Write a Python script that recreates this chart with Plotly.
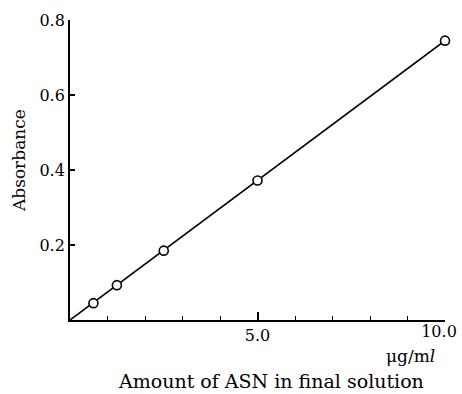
import plotly.graph_objects as go

# Data
conc = [0.625, 1.25, 2.5, 5.0, 10.0]          # µg/ml
absorb = [0.045, 0.093, 0.185, 0.372, 0.745]  # absorbance
fit_x = [0.0, 10.0]
fit_y = [0.0, 0.745]

x_tickvals = [5.0]
x_ticktext = ["5.0"]
x_end_tickvals = [10.0]
x_end_ticktext = ["10.0"]
y_tickvals = [0.2, 0.4, 0.6, 0.8]
y_ticktext = ["0.2", "0.4", "0.6", "0.8"]

FONT = "DejaVu Serif"

fig = go.Figure()
fig.add_trace(go.Scatter(x=fit_x, y=fit_y, mode="lines",
                         line=dict(color="black", width=1.6),
                         hoverinfo="skip", showlegend=False))
# markers drawn on the overlaid x-axis (same range), which carries the "10.0" label
fig.add_trace(go.Scatter(x=conc, y=absorb, mode="markers", xaxis="x2", yaxis="y",
                         marker=dict(size=9, color="white", symbol="circle",
                                     line=dict(color="black", width=1.6)),
                         showlegend=False, cliponaxis=False))

L, R, T, B = 70, 17, 20, 74
W, H = 462, 394
pw, ph = W - L - R, H - T - B

def px(xp):
    return (xp - L) / pw

def py(yp):
    return (H - B - yp) / ph

fig.update_layout(
    width=W, height=H,
    margin=dict(l=L, r=R, t=T, b=B, pad=0, autoexpand=False),
    paper_bgcolor="white", plot_bgcolor="white",
    font=dict(family=FONT, color="black", size=16),
    xaxis=dict(range=[0, 10], showline=True, linecolor="black", linewidth=1.8,
               showgrid=False, zeroline=False, automargin=False,
               tickmode="array", tickvals=x_tickvals, ticktext=x_ticktext,
               ticks="inside", ticklen=8, tickwidth=1.5, tickcolor="black",
               tickfont=dict(family=FONT, size=16),
               minor=dict(tickmode="linear", tick0=0, dtick=1, ticks="inside",
                          ticklen=4, tickwidth=1.3, tickcolor="black")),
    xaxis2=dict(range=[0, 10], overlaying="x", anchor="y", side="bottom",
                showline=False, showgrid=False, zeroline=False, automargin=False,
                tickmode="array", tickvals=x_end_tickvals, ticktext=x_end_ticktext,
                ticks="", ticklabelshift=-6, ticklabeloverflow="allow",
                tickfont=dict(family=FONT, size=16)),
    yaxis=dict(range=[0, 0.8], showline=True, linecolor="black", linewidth=1.8,
               showgrid=False, zeroline=False, automargin=False,
               tickmode="array", tickvals=y_tickvals, ticktext=y_ticktext,
               ticks="inside", ticklen=5, tickwidth=1.5, tickcolor="black",
               ticklabeloverflow="allow",
               tickfont=dict(family=FONT, size=16)),
    annotations=[
        dict(text="Absorbance", textangle=-90, xref="paper", yref="paper",
             x=px(19), y=py(160), xanchor="center", yanchor="middle",
             showarrow=False, font=dict(family=FONT, size=17)),
        dict(text="Amount of ASN in final solution", xref="paper", yref="paper",
             x=px(271), y=py(381), xanchor="center", yanchor="middle",
             showarrow=False, font=dict(family=FONT, size=19)),
        dict(text="\u03bcg/m<i>l</i>", xref="paper", yref="paper",
             x=px(437), y=py(356), xanchor="right", yanchor="middle",
             showarrow=False, font=dict(family=FONT, size=17)),
    ],
)

fig.write_html("out.html")
